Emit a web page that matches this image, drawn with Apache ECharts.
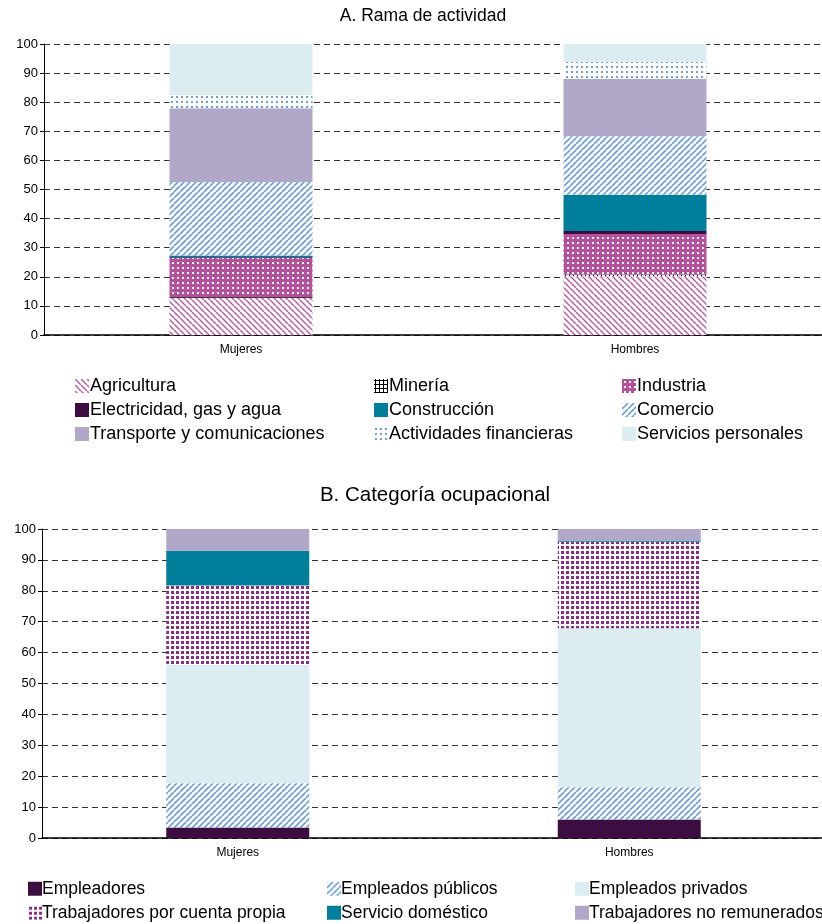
<!DOCTYPE html>
<html>
<head>
<meta charset="utf-8">
<script src="https://cdn.jsdelivr.net/npm/echarts@6/dist/echarts.min.js"></script>
<style>
html,body{margin:0;padding:0;background:#fff;overflow:hidden;width:822px;height:924px;}
#c{width:834px;height:924px;}
</style>
</head>
<body>
<div id="c"></div>
<script>
// ---- Data ----
const categories = ['Mujeres', 'Hombres'];
const yTicks = [0,10,20,30,40,50,60,70,80,90,100];

// A. Rama de actividad
const agricultura     = [12.8, 20.2];
const mineria         = [0.3, 0.5];
const industria       = [13.4, 14.0];
const electricidad    = [0.2, 1.0];
const construccion    = [0.6, 12.5];
const comercio        = [25.3, 20.1];
const transporte      = [25.3, 19.8];
const financieras     = [4.6, 5.8];
const servicios       = [17.5, 6.1];

// B. Categoría ocupacional
const empleadores     = [3.4, 6.0];
const publicos        = [14.3, 10.4];
const privados        = [38.3, 51.5];
const cuentaPropia    = [25.7, 28.0];
const domestico       = [11.3, 0.4];
const noRemunerados   = [7.0, 3.7];

// ---- Patterns ----
function mk(w, h, draw) {
  const c = document.createElement('canvas');
  c.width = w; c.height = h;
  const g = c.getContext('2d');
  draw(g, w, h);
  return c;
}
function pat(canvas) { return { image: canvas, repeat: 'repeat' }; }

const PINK = '#bc5ea5', BLUE = '#6d9edb', MAG = '#b5509d', PURP = '#8b2a87';
const DARK = '#3c0d40', TEAL = '#007f9c', LAV = '#b1a8c9', CYAN = '#dbedf0';

const pAgri = mk(6, 6, (g, w, h) => {
  g.fillStyle = '#fff'; g.fillRect(0, 0, w, h);
  g.strokeStyle = PINK; g.lineWidth = 1.5;
  for (let k = -1; k <= 1; k++) { g.beginPath(); g.moveTo(k * w, 0); g.lineTo(k * w + w, h); g.stroke(); }
});
const pCom = mk(6, 6, (g, w, h) => {
  g.fillStyle = '#fff'; g.fillRect(0, 0, w, h);
  g.strokeStyle = BLUE; g.lineWidth = 1.6;
  for (let k = -1; k <= 1; k++) { g.beginPath(); g.moveTo(k * w, h); g.lineTo(k * w + w, 0); g.stroke(); }
});
const pMin = mk(4, 4, (g, w, h) => {
  g.fillStyle = '#fff'; g.fillRect(0, 0, w, h);
  g.fillStyle = '#000'; g.fillRect(1, 0, 1, 4); g.fillRect(0, 1, 4, 1);
});
const pInd = mk(5, 5, (g, w, h) => {
  g.fillStyle = MAG; g.fillRect(0, 0, w, h);
  g.fillStyle = '#fff'; g.fillRect(2, 2, 2, 2);
});
const pFin = mk(5, 5, (g, w, h) => {
  g.fillStyle = '#fff'; g.fillRect(0, 0, w, h);
  g.fillStyle = BLUE; g.fillRect(1, 1, 2, 2);
});
const pCta = mk(5, 5, (g, w, h) => {
  g.fillStyle = '#fff'; g.fillRect(0, 0, w, h);
  g.fillStyle = PURP; g.fillRect(1, 1, 3, 3);
});

// ---- Series ----
function bar(name, data, color, xi) {
  return {
    name, type: 'bar', stack: 's' + xi, data,
    xAxisIndex: xi, yAxisIndex: xi,
    barWidth: 143,
    itemStyle: { color },
    emphasis: { disabled: true },
    animation: false
  };
}

const seriesA = [
  bar('Agricultura', agricultura, pat(pAgri), 0),
  bar('Minería', mineria, pat(pMin), 0),
  bar('Industria', industria, pat(pInd), 0),
  bar('Electricidad, gas y agua', electricidad, DARK, 0),
  bar('Construcción', construccion, TEAL, 0),
  bar('Comercio', comercio, pat(pCom), 0),
  bar('Transporte y comunicaciones', transporte, LAV, 0),
  bar('Actividades financieras', financieras, pat(pFin), 0),
  bar('Servicios personales', servicios, CYAN, 0)
];
const seriesB = [
  bar('Empleadores', empleadores, DARK, 1),
  bar('Empleados públicos', publicos, pat(pCom), 1),
  bar('Empleados privados', privados, CYAN, 1),
  bar('Trabajadores por cuenta propia', cuentaPropia, pat(pCta), 1),
  bar('Servicio doméstico', domestico, TEAL, 1),
  bar('Trabajadores no remunerados', noRemunerados, LAV, 1)
];

const FONT = 'Liberation Sans, Arial, sans-serif';

function yAxis(gi) {
  return {
    type: 'value', gridIndex: gi, min: 0, max: 100, interval: 10,
    axisLine: { show: true, lineStyle: { color: '#000', width: 1 } },
    axisTick: { show: true, length: 4, lineStyle: { color: '#000' } },
    axisLabel: { color: '#000', fontSize: 13, fontFamily: FONT, margin: 6 },
    splitLine: { show: true, lineStyle: { color: '#333', type: [6, 4], width: 1 } }
  };
}
function xAxis(gi) {
  return {
    type: 'category', gridIndex: gi, data: categories,
    axisLine: { show: true, lineStyle: { color: '#000', width: 1.5 } },
    axisTick: { show: false },
    axisLabel: { color: '#000', fontSize: 12, fontFamily: FONT, margin: 9 }
  };
}
function legend(left, top, names, fs, tpad) {
  return {
    orient: 'vertical', left, top, data: names, padding: 0,
    itemWidth: 14, itemHeight: 14, itemGap: 24 - fs - 2,
    icon: 'rect', selectedMode: false,
    textStyle: { color: '#000', fontSize: fs, lineHeight: fs + 2, fontFamily: FONT, padding: [0, 0, 0, tpad] }
  };
}

const chart = echarts.init(document.getElementById('c'), null, { renderer: 'canvas' });
chart.setOption({
  animation: false,
  backgroundColor: '#fff',
  title: [
    { text: 'A. Rama de actividad', left: 423, textAlign: 'center', top: 7, padding: 0,
      textStyle: { fontSize: 17.5, fontWeight: 'normal', color: '#000', fontFamily: FONT } },
    { text: 'B. Categoría ocupacional', left: 435, textAlign: 'center', top: 485, padding: 0,
      textStyle: { fontSize: 20.5, fontWeight: 'normal', color: '#000', fontFamily: FONT } }
  ],
  grid: [
    { left: 44, top: 44, width: 788, height: 291, containLabel: false },
    { left: 42, top: 529, width: 783, height: 309, containLabel: false }
  ],
  xAxis: [xAxis(0), xAxis(1)],
  yAxis: [yAxis(0), yAxis(1)],
  legend: [
    legend(75, 376, ['Agricultura', 'Electricidad, gas y agua', 'Transporte y comunicaciones'], 18, -4),
    legend(374, 376, ['Minería', 'Construcción', 'Actividades financieras'], 18, -4),
    legend(622, 376, ['Industria', 'Comercio', 'Servicios personales'], 18, -4),
    legend(28, 879, ['Empleadores', 'Trabajadores por cuenta propia'], 17.5, -5),
    legend(327, 879, ['Empleados públicos', 'Servicio doméstico'], 17.5, -5),
    legend(575, 879, ['Empleados privados', 'Trabajadores no remunerados'], 17.5, -5)
  ],
  series: seriesA.concat(seriesB)
});
</script>
</body>
</html>
